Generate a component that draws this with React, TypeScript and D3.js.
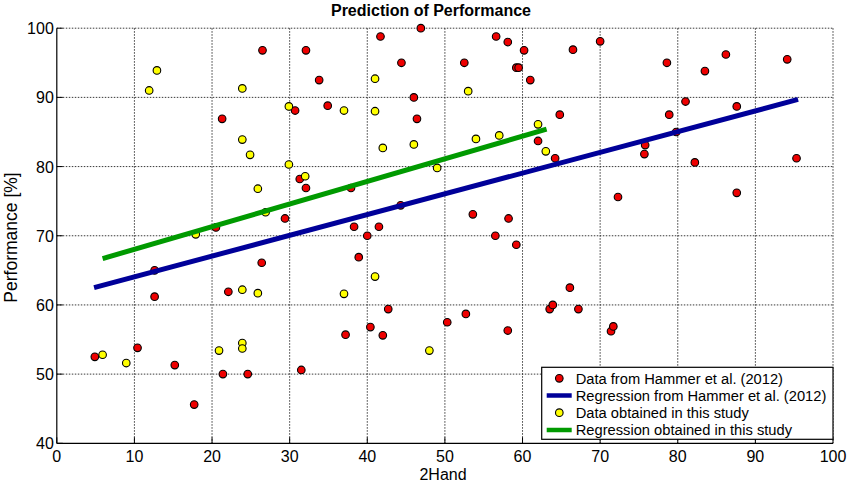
import React from "react";
import * as d3 from "d3";

const hammerX = [32.1, 41.7, 46.9, 56.6, 58.1, 60.2, 66.5, 70.0, 26.5, 33.8, 44.4, 52.5, 59.2, 59.5, 61.0, 46.0, 34.9, 30.7, 21.3, 46.4, 64.8, 62.0, 64.2, 31.3, 32.1, 37.9, 44.3, 53.6, 58.2, 29.4, 20.5, 38.3, 41.5, 40.0, 56.5, 59.2, 38.9, 26.4, 12.6, 12.6, 22.1, 42.7, 52.7, 50.3, 40.4, 58.1, 37.2, 42.0, 66.1, 63.5, 63.9, 67.2, 71.4, 71.7, 4.9, 10.4, 15.2, 21.4, 24.6, 31.5, 17.7, 78.6, 83.5, 86.2, 94.1, 81.0, 78.9, 87.6, 79.8, 75.8, 75.7, 82.2, 95.3, 72.3, 87.6];
const hammerY = [96.8, 98.8, 100.0, 98.8, 98.0, 96.8, 96.9, 98.1, 96.8, 92.5, 95.0, 95.0, 94.3, 94.3, 92.5, 90.0, 88.8, 88.1, 86.9, 86.9, 87.5, 83.7, 81.2, 78.2, 76.9, 76.9, 74.4, 73.1, 72.5, 72.5, 71.2, 71.3, 71.3, 70.0, 70.0, 68.7, 66.9, 66.1, 65.0, 61.2, 61.9, 59.4, 58.7, 57.5, 56.8, 56.3, 55.7, 55.6, 62.5, 59.4, 60.0, 59.4, 56.2, 56.9, 52.5, 53.8, 51.3, 50.0, 50.0, 50.6, 45.6, 95.0, 93.8, 96.2, 95.5, 89.4, 87.5, 88.7, 85.0, 83.1, 81.8, 80.6, 81.2, 75.6, 76.2];

const studyX = [11.9, 12.9, 23.9, 29.9, 23.9, 24.9, 29.9, 32.0, 25.9, 26.9, 17.9, 23.9, 25.9, 5.9, 8.95, 20.9, 23.9, 23.9, 41.0, 53.0, 37.0, 41.0, 62.0, 54.0, 57.0, 42.0, 46.0, 63.0, 49.0, 41.0, 37.0, 48.0];
const studyY = [91.0, 93.9, 91.3, 88.7, 83.9, 81.7, 80.3, 78.6, 76.8, 73.4, 70.2, 62.2, 61.7, 52.8, 51.6, 53.4, 54.5, 53.7, 92.7, 90.9, 88.1, 88.0, 86.1, 84.0, 84.5, 82.7, 83.2, 82.2, 79.8, 64.1, 61.6, 53.4];

const hammerLineX = [4.8, 95.5];
const hammerLineY = [62.5, 89.7];
const studyLineX = [5.9, 63.1];
const studyLineY = [66.7, 85.4];

const xTicks = [0, 10, 20, 30, 40, 50, 60, 70, 80, 90, 100];
const yTicks = [40, 50, 60, 70, 80, 90, 100];

const legendLabels = [
  "Data from Hammer et al. (2012)",
  "Regression from Hammer et al. (2012)",
  "Data obtained in this study",
  "Regression obtained in this study",
];

const W = 850;
const H = 483;
const L = 56.8, R = 833, T = 28.2, B = 443.3;

export default function App() {
  const x = d3.scaleLinear().domain([0, 100]).range([L, R]);
  const y = d3.scaleLinear().domain([40, 100]).range([B, T]);
  const line = d3.line<[number, number]>().x((d) => x(d[0])).y((d) => y(d[1]));
  const font = "Arial, 'Liberation Sans', sans-serif";
  const blue = "#000099";
  const green = "#009a00";
  const hammerPts = hammerX.map((v, i) => [v, hammerY[i]]);
  const studyPts = studyX.map((v, i) => [v, studyY[i]]);
  const lgX = 541.7, lgY = 367.3, lgW = 833 - 541.7, lgH = 72;
  const rowY = [378.3, 395.5, 412.7, 430];
  return (
    <svg width={W} height={H} style={{ position: "absolute", left: 0, top: 0, background: "#fff" }} fontFamily={font}>
      <rect x={0} y={0} width={W} height={H} fill="#fff" />
      {xTicks.slice(1, -1).map((t) => (
        <line key={"gx" + t} x1={x(t)} x2={x(t)} y1={T} y2={B} stroke="#222" strokeWidth={0.9} strokeDasharray="1.5,1.5" />
      ))}
      {yTicks.slice(1, -1).map((t) => (
        <line key={"gy" + t} x1={L} x2={R} y1={y(t)} y2={y(t)} stroke="#222" strokeWidth={0.9} strokeDasharray="1.5,1.5" />
      ))}
      <line x1={L} x2={R} y1={T} y2={T} stroke="#222" strokeWidth={0.9} strokeDasharray="1.5,1.5" />
      <line x1={R} x2={R} y1={T} y2={B} stroke="#222" strokeWidth={0.9} strokeDasharray="1.5,1.5" />
      {xTicks.map((t) => (
        <g key={"tx" + t}>
          <line x1={x(t)} x2={x(t)} y1={B} y2={B - 6} stroke="#000" strokeWidth={1} />
          <text x={x(t)} y={B + 18.5} fontSize={16} textAnchor="middle" fill="#000">{t}</text>
        </g>
      ))}
      {yTicks.map((t) => (
        <g key={"ty" + t}>
          <line x1={L} x2={L + 6} y1={y(t)} y2={y(t)} stroke="#000" strokeWidth={1} />
          <text x={L - 3} y={y(t) + 6} fontSize={16} textAnchor="end" fill="#000">{t}</text>
        </g>
      ))}
      <line x1={L} x2={L} y1={T} y2={B} stroke="#000" strokeWidth={1.2} />
      <line x1={L} x2={R} y1={B} y2={B} stroke="#000" strokeWidth={1.2} />
      {hammerPts.map((p, i) => (
        <circle key={"h" + i} cx={x(p[0])} cy={y(p[1])} r={3.8} fill="#ee0000" stroke="#000" strokeWidth={1.1} />
      ))}
      {studyPts.map((p, i) => (
        <circle key={"s" + i} cx={x(p[0])} cy={y(p[1])} r={3.8} fill="#ffff00" stroke="#000" strokeWidth={1.1} />
      ))}
      <path d={line(hammerLineX.map((v, i) => [v, hammerLineY[i]]) as [number, number][]) || ""} stroke={blue} strokeWidth={5} fill="none" />
      <path d={line(studyLineX.map((v, i) => [v, studyLineY[i]]) as [number, number][]) || ""} stroke={green} strokeWidth={5} fill="none" />
      <rect x={lgX} y={lgY} width={lgW} height={lgH} fill="#fff" stroke="#000" strokeWidth={1.2} />
      {legendLabels.map((lab, i) => (
        <g key={"lg" + i}>
          {i % 2 === 0 ? (
            <circle cx={559.3} cy={rowY[i]} r={3.8} fill={i === 0 ? "#ee0000" : "#ffff00"} stroke="#000" strokeWidth={1.1} />
          ) : (
            <line x1={546.7} x2={571.7} y1={rowY[i]} y2={rowY[i]} stroke={i === 1 ? blue : green} strokeWidth={4.5} />
          )}
          <text x={575.7} y={rowY[i] + 5.3} fontSize={14.7} fill="#000">{lab}</text>
        </g>
      ))}
      <text x={431} y={16} fontSize={16} fontWeight="bold" textAnchor="middle" fill="#000">Prediction of Performance</text>
      <text x={443} y={479.5} fontSize={16} textAnchor="middle" fill="#000">2Hand</text>
      <text transform={`translate(17,237.5) rotate(-90)`} fontSize={17.5} textAnchor="middle" fill="#000">Performance [%]</text>
    </svg>
  );
}
